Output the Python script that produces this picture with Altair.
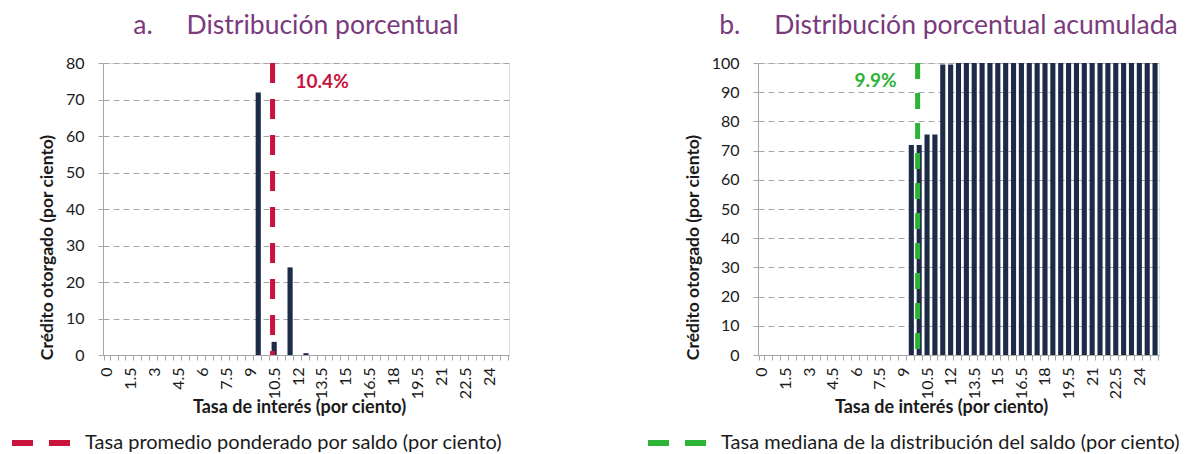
import altair as alt
import pandas as pd

# Interest-rate categories (per cent)
tasas = [0, 0.5, 1, 1.5, 2, 2.5, 3, 3.5, 4, 4.5, 5, 5.5, 6, 6.5, 7, 7.5, 8, 8.5,
         9, 9.5, 10, 10.5, 11, 11.5, 12, 12.5, 13, 13.5, 14, 14.5, 15, 15.5, 16,
         16.5, 17, 17.5, 18, 18.5, 19, 19.5, 20, 20.5, 21, 21.5, 22, 22.5, 23,
         23.5, 24, 24.5, 25]

# a. percentage distribution
distribucion = [0, 0, 0, 0, 0, 0, 0, 0, 0, 0, 0, 0, 0, 0, 0, 0, 0, 0,
                0, 71.9, 0, 3.6, 0, 24.0, 0, 0.5, 0, 0, 0, 0, 0, 0, 0,
                0, 0, 0, 0, 0, 0, 0, 0, 0, 0, 0, 0, 0, 0,
                0, 0, 0, 0]

# b. cumulative percentage distribution
acumulada = [0, 0, 0, 0, 0, 0, 0, 0, 0, 0, 0, 0, 0, 0, 0, 0, 0, 0,
             0, 71.9, 71.9, 75.5, 75.5, 99.5, 99.5, 100, 100, 100, 100, 100, 100, 100, 100,
             100, 100, 100, 100, 100, 100, 100, 100, 100, 100, 100, 100, 100, 100,
             100, 100, 100, 100]

ticks_a = [0, 10, 20, 30, 40, 50, 60, 70, 80]
ticks_b = [0, 10, 20, 30, 40, 50, 60, 70, 80, 90, 100]

tasa_promedio = 10.4
tasa_mediana = 9.9
nombre_promedio = "Tasa promedio ponderado por saldo (por ciento)"
nombre_mediana = "Tasa mediana de la distribución del saldo (por ciento)"
etiqueta_promedio = "10.4%"
etiqueta_mediana = "9.9%"

FONT = "Lato"
NAVY = "#1D2B48"
PURPLE = "#7A3A7C"
RED = "#C8143C"
GREEN = "#2DB336"
GRAY = "#A6A6A6"
TXT = "#1A1A1A"
H = 292


def panel(valores, ticks, ymax, width, titulo, val, etiqueta, nombre, color,
          dash, tdx, talign, ty, title_x, legend_x, title_dx):
    df = pd.DataFrame({"tasa": tasas, "valor": valores})
    xaxis = alt.Axis(
        title="Tasa de interés (por ciento)",
        labelExpr="datum.value % 1.5 == 0 ? datum.label : ''",
        labelAngle=-90, labelAlign="right", labelBaseline="middle",
        labelOverlap=False, tickBand="extent", tickSize=5, labelPadding=7,
        labelFont=FONT, labelFontSize=16, labelColor=TXT,
        titleFont=FONT, titleFontSize=18, titleFontWeight="bold", titleColor=TXT,
        titleX=title_x, titleY=52, titleBaseline="middle", titleAlign="center",
        domainColor=GRAY, tickColor=GRAY, grid=False,
    )
    yaxis = alt.Axis(
        title="Crédito otorgado (por ciento)", values=ticks,
        labelFont=FONT, labelFontSize=16, labelColor=TXT, labelPadding=14,
        titleFont=FONT, titleFontSize=17.5, titleFontWeight="bold", titleColor=TXT,
        titleY=184, titlePadding=9,
        domainColor=GRAY, tickColor=GRAY, tickSize=5,
        grid=True, gridColor=GRAY, gridDash=[6, 4], gridWidth=1,
    )
    bars = alt.Chart(df).mark_bar(color=NAVY).encode(
        x=alt.X("tasa:O", scale=alt.Scale(paddingInner=0.35, paddingOuter=0.175), axis=xaxis),
        y=alt.Y("valor:Q", scale=alt.Scale(domain=[0, ymax], nice=False), axis=yaxis),
    )
    ldf = pd.DataFrame({"tasa": [val], "serie": [nombre], "etiqueta": [etiqueta]})
    xq = alt.X("tasa:Q", scale=alt.Scale(domain=[-0.25, 25.25], nice=False, zero=False), axis=None)
    rule = alt.Chart(ldf).mark_rule(strokeWidth=5, strokeDash=dash).encode(
        x=xq,
        color=alt.Color(
            "serie:N",
            scale=alt.Scale(domain=[nombre], range=[color]),
            legend=alt.Legend(
                title=None, orient="none", legendX=legend_x, legendY=348,
                symbolType="stroke", symbolSize=3364, symbolStrokeWidth=6,
                symbolDash=[21, 16], labelFont=FONT, labelFontSize=20,
                labelColor=TXT, labelOffset=12, padding=0, labelLimit=700,
            ),
        ),
    )
    text = alt.Chart(ldf).mark_text(
        font=FONT, fontSize=19, fontWeight="bold", color=color,
        align=talign, baseline="middle", dx=tdx,
    ).encode(x=xq, y=alt.value(ty), text="etiqueta:N")
    return (
        alt.layer(bars, rule, text)
        .resolve_scale(x="independent")
        .properties(
            width=width, height=H,
            title=alt.TitleParams(
                text=titulo, font=FONT, fontSize=26.5, fontWeight="normal",
                color=PURPLE, anchor="middle", dx=title_dx, offset=16,
            ),
        )
    )


left = panel(distribucion, ticks_a, 80, 406,
             "a.\u00a0\u00a0\u00a0\u00a0 Distribución porcentual",
             tasa_promedio, etiqueta_promedio, nombre_promedio, RED, [20, 16],
             23, "left", 19, 196, -94, -10)
right = panel(acumulada, ticks_b, 100, 401,
              "b.\u00a0\u00a0\u00a0\u00a0 Distribución porcentual acumulada",
              tasa_mediana, etiqueta_mediana, nombre_mediana, GREEN, [16, 14],
              -21, "right", 18, 183, -113, -10)

chart = (
    alt.hconcat(left, right, spacing=249, bounds="flush")
    .resolve_scale(color="independent")
    .resolve_legend(color="independent")
    .properties(padding={"left": 0, "top": 4, "right": 0, "bottom": 0})
    .configure_view(stroke=None)
    .configure(font=FONT)
)

chart.save("out.html", embed_options={"renderer": "svg", "actions": False})
